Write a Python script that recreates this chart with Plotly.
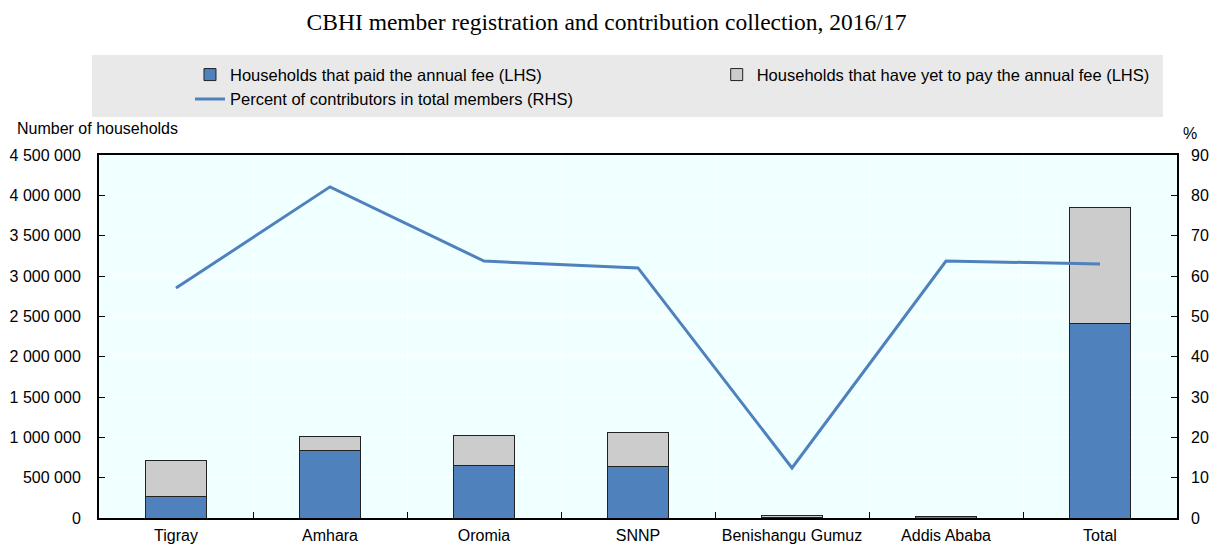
import plotly.graph_objects as go

categories = ["Tigray", "Amhara", "Oromia", "SNNP", "Benishangu Gumuz", "Addis Ababa", "Total"]
paid = [264000, 831000, 653000, 641000, 4000, 13000, 2417000]
unpaid = [455000, 185000, 372000, 413000, 28000, 8000, 1438000]
percent = [57.0, 82.1, 63.7, 62.0, 12.4, 63.7, 63.0]

BLUE = "#4F81BD"
GREY = "#CCCCCC"
FONT = "Liberation Sans, Arial, sans-serif"

fig = go.Figure()
fig.add_trace(go.Bar(x=categories, y=paid, name="Households that paid the annual fee (LHS)",
                     marker=dict(color=BLUE, line=dict(color="#222222", width=1)), width=0.4,
                     legend="legend"))
fig.add_trace(go.Bar(x=categories, y=unpaid, name="Households that have yet to pay the annual fee (LHS)",
                     marker=dict(color=GREY, line=dict(color="#222222", width=1)), width=0.4,
                     legend="legend2"))
fig.add_trace(go.Scatter(x=categories, y=percent, name="Percent of contributors in total members (RHS)",
                         mode="lines", line=dict(color=BLUE, width=3), yaxis="y2",
                         legend="legend"))

legend_common = dict(xanchor="left", yanchor="top", bgcolor="rgba(0,0,0,0)",
                     font=dict(size=16.5), traceorder="normal", orientation="v")

fig.update_layout(
    width=1213, height=544,
    margin=dict(l=99, r=36, t=155, b=26, autoexpand=False),
    barmode="stack",
    paper_bgcolor="white",
    plot_bgcolor="#F0FFFF",
    separators=". ",
    font=dict(family=FONT, size=16, color="black"),
    title=dict(text="CBHI member registration and contribution collection, 2016/17",
               font=dict(family="Liberation Serif, Times New Roman, serif", size=23.5, color="black"),
               x=0.5, xanchor="center", y=0.96, yanchor="middle"),
    xaxis=dict(type="category", tickson="boundaries", ticks="inside", ticklen=6, tickcolor="black",
               showline=True, linecolor="black", linewidth=2, mirror=True,
               showgrid=True, gridcolor="white", gridwidth=1,
               tickfont=dict(size=16), range=[-0.5, 6.5], ticklabelstandoff=2),
    yaxis=dict(range=[0, 4500000], dtick=500000, tickformat=",d", ticks="inside", ticklen=6,
               tickcolor="black", showline=True, linecolor="black", linewidth=2, mirror=True,
               showgrid=True, gridcolor="white", gridwidth=1, zeroline=False,
               tickfont=dict(size=16), ticklabelstandoff=13),
    yaxis2=dict(range=[0, 90], dtick=10, overlaying="y", side="right", ticks="inside", ticklen=6,
                tickcolor="black", showgrid=False, zeroline=False, showline=False,
                tickfont=dict(size=16), ticklabelstandoff=13),
    legend=dict(x=0.0844, y=1.269, **legend_common),
    legend2=dict(x=0.573, y=1.269, **legend_common),
    shapes=[dict(type="rect", xref="paper", yref="paper", x0=-0.0065, x1=0.987, y0=1.1047, y1=1.2755,
                 fillcolor="#E9E9E9", line=dict(width=0), layer="below")],
    annotations=[
        dict(text="Number of households", xref="paper", yref="paper", x=-0.078, y=1.074,
             xanchor="left", yanchor="middle", showarrow=False, font=dict(size=16)),
        dict(text="%", xref="paper", yref="paper", x=1.012, y=1.058,
             xanchor="center", yanchor="middle", showarrow=False, font=dict(size=16)),
    ],
    bargap=0.6,
)

fig.write_html("out.html", config={"displayModeBar": False},
               post_script="document.body.style.margin='0';document.body.style.padding='0';document.body.style.overflow='hidden';")
